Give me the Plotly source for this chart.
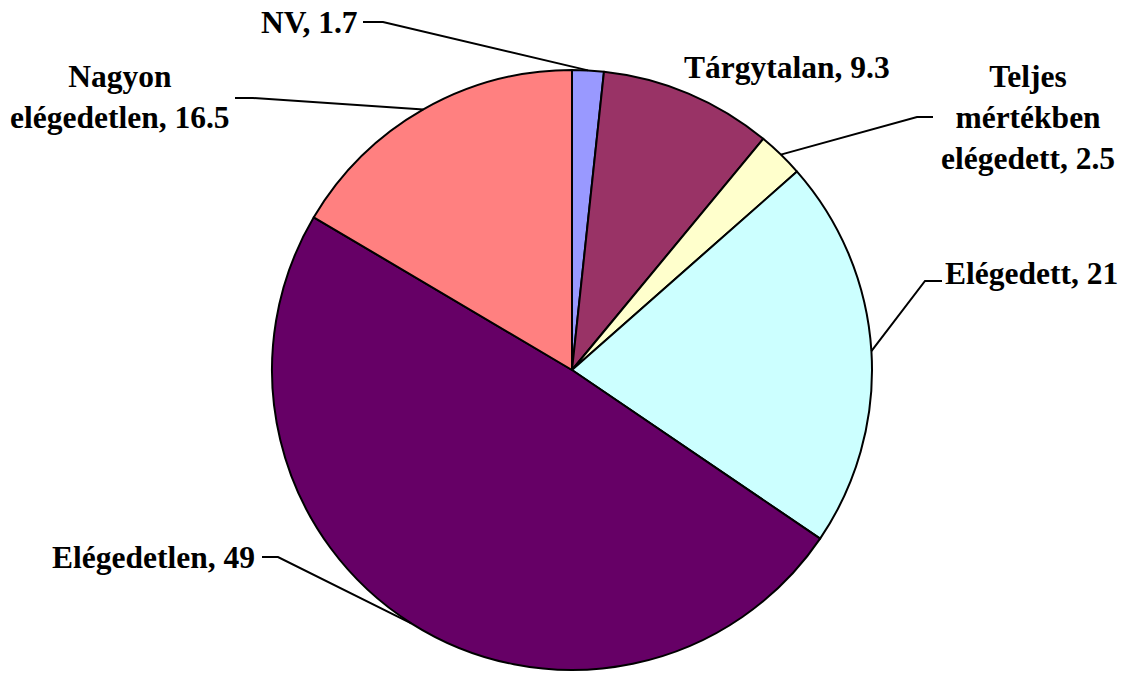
import math
import plotly.graph_objects as go

# ---- data ----
categories = ["NV", "Tárgytalan", "Teljes mértékben elégedett", "Elégedett",
              "Elégedetlen", "Nagyon elégedetlen"]
values = [1.7, 9.3, 2.5, 21, 49, 16.5]
colors = ["#9999FF", "#993366", "#FFFFCC", "#CCFFFF", "#660066", "#FF8080"]

# ---- layout (pixel geometry) ----
W, H = 1123, 673
CX, CY, R = 572, 370, 300
FONT = dict(family="Times New Roman, Liberation Serif, serif", size=31.5,
            color="black", weight="bold")

# label placement
label_cfg = {
    "NV": dict(x=359, y=22, xa="right", wrap=None, elbow=(383, 22), end=(363, 22)),
    "Tárgytalan": dict(x=683, y=67, xa="left", wrap=None, elbow=None, end=None),
    "Teljes mértékben elégedett": dict(x=1028, y=117, xa="center", wrap=[1, 2],
                                       elbow=(917, 117), end=(933, 117)),
    "Elégedett": dict(x=944, y=273, xa="left", wrap=None, elbow=(925, 281), end=(942, 281)),
    "Elégedetlen": dict(x=256, y=557, xa="right", wrap=None, elbow=(278, 557), end=(262, 557)),
    "Nagyon elégedetlen": dict(x=120, y=97, xa="center", wrap=[1],
                               elbow=(253, 98), end=(235, 98)),
}

fig = go.Figure()
fig.add_trace(go.Pie(
    labels=categories, values=values, sort=False, direction="clockwise",
    rotation=0, textinfo="none", hoverinfo="label+value",
    marker=dict(colors=colors, line=dict(color="black", width=2)),
    domain=dict(x=[(CX - R) / W, (CX + R) / W], y=[(H - CY - R) / H, (H - CY + R) / H]),
    showlegend=False,
))

total = sum(values)
cum = 0.0
for name, v in zip(categories, values):
    mid = (cum + v / 2) / total * 2 * math.pi
    cum += v
    cfg = label_cfg[name]
    words = name.split(" ")
    if cfg["wrap"]:
        parts, prev = [], 0
        for b in cfg["wrap"] + [len(words)]:
            parts.append(" ".join(words[prev:b]))
            prev = b
        txt = "<br>".join(parts)
    else:
        txt = name
    txt = f"{txt}, {v:g}"
    fig.add_annotation(x=cfg["x"], y=cfg["y"], xref="x", yref="y", text=txt,
                       showarrow=False, xanchor=cfg["xa"], yanchor="middle",
                       align="center", font=FONT, borderpad=0)
    if cfg["elbow"]:
        ex = CX + R * math.sin(mid)
        ey = CY - R * math.cos(mid)
        (bx, by), (tx, ty) = cfg["elbow"], cfg["end"]
        fig.add_shape(type="path", xref="x", yref="y",
                      path=f"M {ex:.1f},{ey:.1f} L {bx},{by} L {tx},{ty}",
                      line=dict(color="black", width=2))

fig.update_layout(
    width=W, height=H, margin=dict(l=0, r=0, t=0, b=0),
    paper_bgcolor="white", plot_bgcolor="rgba(0,0,0,0)",
    xaxis=dict(range=[0, W], visible=False, fixedrange=True),
    yaxis=dict(range=[H, 0], visible=False, fixedrange=True),
)
fig.write_html("out.html", config=dict(displayModeBar=False),
               post_script="document.body.style.margin='0';document.body.style.overflow='hidden';")
